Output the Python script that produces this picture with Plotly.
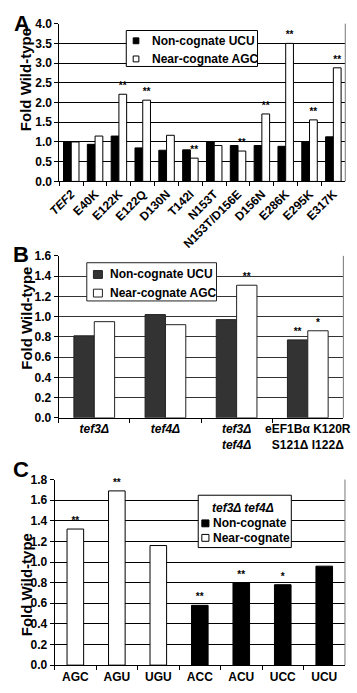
import plotly.graph_objects as go

W, H = 357, 693
FONT = "Liberation Sans, Arial, sans-serif"

# ---------------- Panel A data ----------------
a_categories = ["TEF2", "E40K", "E122K", "E122Q", "D130N", "T142I", "N153T",
                "N153T/D156E", "D156N", "E286K", "E295K", "E317K"]
a_ticklabels = ["<i>TEF2</i>", "E40K", "E122K", "E122Q", "D130N", "T142I", "N153T",
                "N153T/D156E", "D156N", "E286K", "E295K", "E317K"]
a_noncognate_ucu = [1.0, 0.94, 1.15, 0.85, 0.79, 0.80, 1.0, 0.91, 0.91, 0.89, 1.0, 1.13]
a_nearcognate_agc = [1.0, 1.15, 2.21, 2.06, 1.17, 0.59, 0.91, 0.77, 1.71, 3.5, 1.56, 2.88]
a_noncognate_sig = [""] * 12
a_nearcognate_sig = ["", "", "**", "**", "", "**", "", "**", "**", "**", "**", "**"]
a_yticks = [0.0, 0.5, 1.0, 1.5, 2.0, 2.5, 3.0, 3.5, 4.0]

# ---------------- Panel B data ----------------
b_categories = ["tef3Δ", "tef4Δ", "tef3Δ tef4Δ", "eEF1Bα K120R S121Δ I122Δ"]
b_ticklabels = ["<i>tef3Δ</i>", "<i>tef4Δ</i>", "<i>tef3Δ</i><br><i>tef4Δ</i>",
                "eEF1Bα K120R<br>S121Δ I122Δ"]
b_noncognate_ucu = [0.81, 1.02, 0.97, 0.77]
b_nearcognate_agc = [0.95, 0.92, 1.31, 0.86]
b_noncognate_sig = ["", "", "", "**"]
b_nearcognate_sig = ["", "", "**", "*"]
b_yticks = [0.0, 0.2, 0.4, 0.6, 0.8, 1.0, 1.2, 1.4, 1.6]

# ---------------- Panel C data ----------------
c_categories = ["AGC", "AGU", "UGU", "ACC", "ACU", "UCC", "UCU"]
c_near_codons = ["AGC", "AGU", "UGU"]
c_near_values = [1.32, 1.69, 1.16]
c_near_sig = ["**", "**", ""]
c_non_codons = ["ACC", "ACU", "UCC", "UCU"]
c_non_values = [0.58, 0.80, 0.78, 0.96]
c_non_sig = ["**", "**", "*", ""]
c_yticks = [0.0, 0.2, 0.4, 0.6, 0.8, 1.0, 1.2, 1.4, 1.6, 1.8]

legend_a_labels = ["Non-cognate UCU", "Near-cognate AGC"]
legend_b_labels = ["Non-cognate UCU", "Near-cognate AGC"]
legend_c_title = "tef3Δ tef4Δ"
legend_c_labels = ["Non-cognate", "Near-cognate"]


def px_x(v):
    return v / W


def px_y(v):
    return (H - v) / H


def bold(lst):
    return [f"<b>{s}</b>" for s in lst]


def bold_num(lst):
    return [f"<b>{v:.1f}</b>" for v in lst]


fig = go.Figure()

star_font = dict(family=FONT, size=10, color="black", weight="bold")


def bar(x, y, name, color, line, width, offset, text, xa, ya):
    return go.Bar(x=x, y=y, name=name, showlegend=False,
                  marker=dict(color=color, line=dict(color=line, width=1)),
                  width=width, offset=offset, text=text,
                  textposition="outside", textfont=star_font, constraintext="none",
                  cliponaxis=False, xaxis=xa, yaxis=ya)


# Panel A
fig.add_trace(bar(a_categories, a_noncognate_ucu, legend_a_labels[0], "black", "black",
                  0.325, -0.325, a_noncognate_sig, "x", "y"))
fig.add_trace(bar(a_categories, a_nearcognate_agc, legend_a_labels[1], "white", "black",
                  0.325, 0.0, a_nearcognate_sig, "x", "y"))
# Panel B
fig.add_trace(bar(b_categories, b_noncognate_ucu, legend_b_labels[0], "#333333", "#222222",
                  0.286, -0.286, b_noncognate_sig, "x2", "y2"))
fig.add_trace(bar(b_categories, b_nearcognate_agc, legend_b_labels[1], "white", "#222222",
                  0.286, 0.0, b_nearcognate_sig, "x2", "y2"))
# Panel C
fig.add_trace(bar(c_non_codons, c_non_values, legend_c_labels[0], "black", "black",
                  0.4, -0.2, c_non_sig, "x3", "y3"))
fig.add_trace(bar(c_near_codons, c_near_values, legend_c_labels[1], "white", "black",
                  0.4, -0.2, c_near_sig, "x3", "y3"))

tick_font = dict(family=FONT, size=12, color="black", weight="bold")

xcommon = dict(type="category", showline=True, linecolor="black", linewidth=1,
               ticks="outside", ticklen=4, tickcolor="black", tickson="boundaries",
               showgrid=False, tickfont=tick_font, zeroline=False)
ycommon = dict(showline=True, linecolor="black", linewidth=1, ticks="outside",
               ticklen=4, tickcolor="black", showgrid=True, gridcolor="black",
               gridwidth=1, tickfont=tick_font, zeroline=False)

fig.update_layout(
    width=W, height=H, autosize=False,
    margin=dict(l=0, r=0, t=0, b=0),
    paper_bgcolor="white", plot_bgcolor="white",
    font=dict(family=FONT, color="black"),
    barmode="group", showlegend=False,
    xaxis=dict(xcommon, domain=[px_x(50), px_x(352)], anchor="y", tickangle=-45,
               categoryorder="array", categoryarray=a_categories,
               tickmode="array", tickvals=a_categories, ticktext=bold(a_ticklabels)),
    yaxis=dict(ycommon, domain=[px_y(178), px_y(17)], anchor="x", range=[0, 4.0],
               tickmode="array", tickvals=a_yticks, ticktext=bold_num(a_yticks)),
    xaxis2=dict(xcommon, domain=[px_x(49.3), px_x(350)], anchor="y2", tickangle=0,
                categoryorder="array", categoryarray=b_categories,
                tickmode="array", tickvals=b_categories, ticktext=bold(b_ticklabels)),
    yaxis2=dict(ycommon, domain=[px_y(419.3), px_y(254)], anchor="x2", range=[0, 1.6],
                tickmode="array", tickvals=b_yticks, ticktext=bold_num(b_yticks),
                gridcolor="#333333"),
    xaxis3=dict(xcommon, domain=[px_x(45), px_x(351.7)], anchor="y3", tickangle=0,
                categoryorder="array", categoryarray=c_categories,
                tickmode="array", tickvals=c_categories, ticktext=bold(c_categories)),
    yaxis3=dict(ycommon, domain=[px_y(671.7), px_y(482.3)], anchor="x3", range=[0, 1.8],
                tickmode="array", tickvals=c_yticks, ticktext=bold_num(c_yticks)),
)

# right-hand frame lines (gray, as in reference)
for xr, yr in [("x", "y"), ("x2", "y2"), ("x3", "y3")]:
    fig.add_shape(type="line", xref=f"{xr} domain", yref=f"{yr} domain",
                  x0=1, x1=1, y0=0, y1=1, line=dict(color="#777777", width=1))


# ---------------- legend boxes (paper coordinates) ----------------
def rect(x0, y0, x1, y1, fill, line="black"):
    fig.add_shape(type="rect", xref="paper", yref="paper",
                  x0=px_x(x0), x1=px_x(x1), y0=px_y(y1), y1=px_y(y0),
                  fillcolor=fill, line=dict(color=line, width=1), layer="above")


def label(x, y, text, anchor="left", size=12):
    fig.add_annotation(xref="paper", yref="paper", x=px_x(x), y=px_y(y),
                       text=text, showarrow=False, xanchor=anchor, yanchor="middle",
                       font=dict(family=FONT, size=size, color="black", weight="bold"))


# A
rect(120.7, 24, 259.3, 60.7, "white")
rect(128, 31.5, 134, 37.5, "black")
rect(128, 50, 134, 56, "white")
label(146, 34.5, f"<b>{legend_a_labels[0]}</b>")
label(146, 53, f"<b>{legend_a_labels[1]}</b>")
# B
rect(79, 261, 216, 300, "white", "#222222")
rect(86, 269, 95.5, 277, "#333333", "#222222")
rect(86, 288, 95.5, 296, "white", "#222222")
label(101, 272.8, f"<b>{legend_b_labels[0]}</b>")
label(101, 292, f"<b>{legend_b_labels[1]}</b>")
# C
rect(196.7, 498.3, 295, 551.7, "white")
label(244, 511.7, f"<b><i>{legend_c_title}</i></b>", anchor="center")
rect(200.5, 523.5, 208, 530.5, "black")
rect(200.5, 538.3, 208, 545.3, "white")
label(210, 527, f"<b>{legend_c_labels[0]}</b>")
label(210, 541.7, f"<b>{legend_c_labels[1]}</b>")

# panel letters
for txt, x, y in [("A", 11, 17), ("B", 9, 253), ("C", 10, 472)]:
    label(x, y, f"<b>{txt}</b>", anchor="center", size=22)

# y-axis titles
for yc in [74.5, 318, 590]:
    fig.add_annotation(xref="paper", yref="paper", x=px_x(15), y=px_y(yc),
                       text="<b>Fold Wild-type</b>", textangle=-90, showarrow=False,
                       xanchor="center", yanchor="middle",
                       font=dict(family=FONT, size=15, color="black", weight="bold"))

fig.write_html("out.html")
